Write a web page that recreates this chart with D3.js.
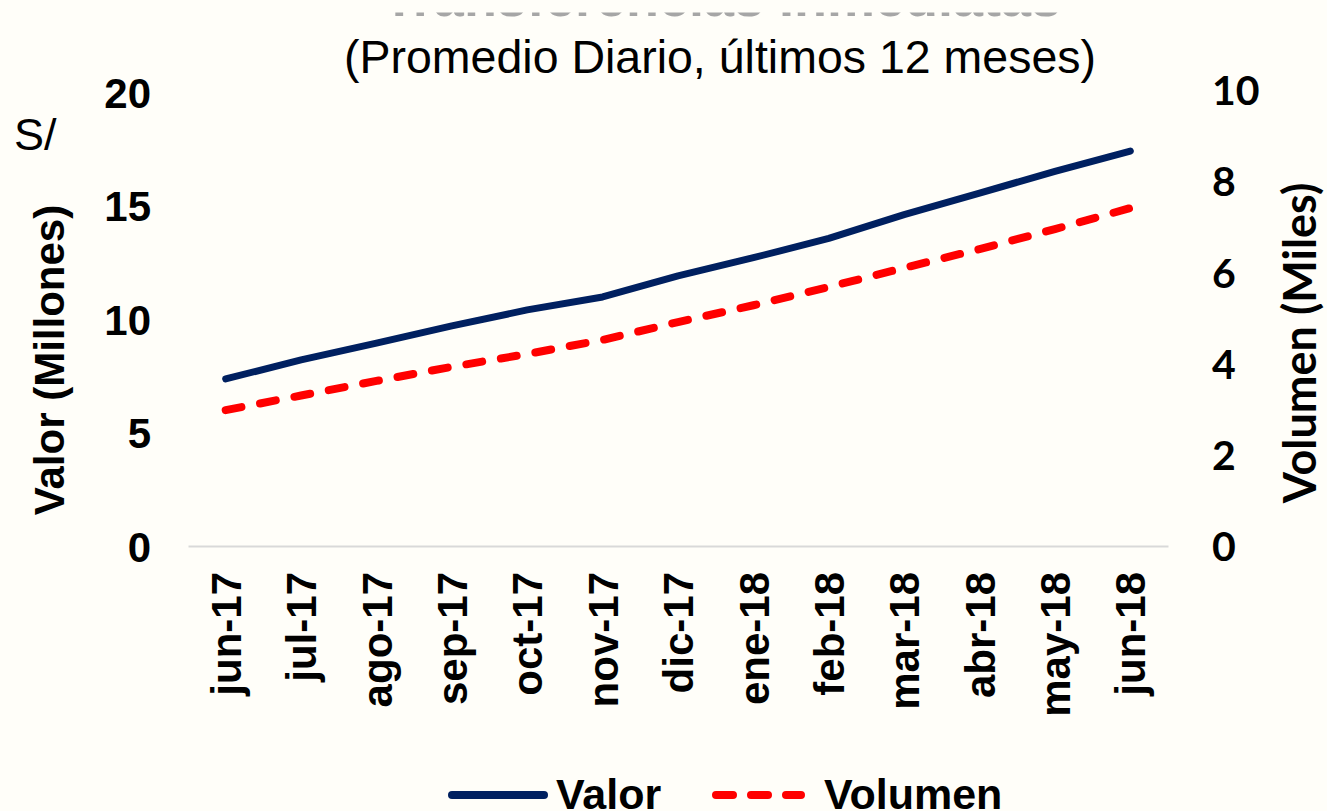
<!DOCTYPE html>
<html><head><meta charset="utf-8">
<script src="https://cdn.jsdelivr.net/npm/d3@7"></script>
<style>html,body{margin:0;padding:0;background:#FFFEF9;}svg{display:block;}</style>
</head><body>
<svg id="c" width="1327" height="811"></svg>
<script>
const categories = ["jun-17","jul-17","ago-17","sep-17","oct-17","nov-17","dic-17","ene-18","feb-18","mar-18","abr-18","may-18","jun-18"];
const valor = [7.36,8.2,8.94,9.7,10.4,10.97,11.9,12.7,13.55,14.6,15.55,16.5,17.4];
const volumen = [2.98,3.3,3.62,3.93,4.21,4.52,4.91,5.28,5.68,6.1,6.51,6.95,7.41];
const leftTicks = [0,5,10,15,20];
const rightTicks = [0,2,4,6,8,10];

const svg = d3.select("#c");
const W = 1327, H = 811;
const ARIAL = "Liberation Sans, Arial, sans-serif";
const CAL = "Lato, 'Open Sans', sans-serif";
svg.append("rect").attr("width",W).attr("height",H).attr("fill","#FFFEF9");

const x = d3.scaleBand().domain(categories).range([188,1168]);
const yL = d3.scaleLinear().domain([0,20]).range([546,92]);
const yR = d3.scaleLinear().domain([0,10]).range([546,90]);
const cx = d => x(d) + x.bandwidth()/2;

// Title (only its lower edge shows, as in the reference)
svg.append("clipPath").attr("id","tclip").append("rect")
  .attr("x",0).attr("y",12.5).attr("width",W).attr("height",10);
svg.append("text").attr("clip-path","url(#tclip)")
  .attr("x",722).attr("y",16).attr("text-anchor","middle")
  .attr("font-family",ARIAL).attr("font-weight","bold")
  .attr("font-size",54).attr("fill","#a6a6a6").text("Transferencias Inmediatas");
svg.append("text").attr("x",720).attr("y",73).attr("text-anchor","middle")
  .attr("font-family",ARIAL)
  .attr("font-size",46.5).attr("fill","#000").text("(Promedio Diario, últimos 12 meses)");

// X axis
const xAxis = svg.append("g").attr("transform","translate(0,546)")
  .call(d3.axisBottom(x).tickSize(0).tickPadding(0));
xAxis.select(".domain").attr("stroke","#d9d9d9").attr("stroke-width",2);
xAxis.selectAll("text")
  .attr("font-family",ARIAL).attr("font-weight","bold")
  .attr("font-size",42).attr("fill","#000")
  .attr("transform","rotate(-90)").attr("text-anchor","end")
  .attr("x",-26).attr("y",0).attr("dy","0.36em");

// Left axis
const lAxis = svg.append("g").attr("transform","translate(151,0)")
  .call(d3.axisLeft(yL).tickValues(leftTicks).tickSize(0).tickPadding(0));
lAxis.select(".domain").remove();
lAxis.selectAll("text").attr("font-family",ARIAL)
  .attr("font-weight","bold").attr("font-size",42).attr("fill","#000").attr("dy","0.36em");

// Right axis
const rAxis = svg.append("g").attr("transform","translate(1212,0)")
  .call(d3.axisRight(yR).tickValues(rightTicks).tickSize(0).tickPadding(0));
rAxis.select(".domain").remove();
rAxis.selectAll("text").attr("font-family",CAL)
  .attr("font-weight","bold").attr("font-size",41).attr("fill","#000").attr("dy","0.36em");

// Axis titles
svg.append("text").attr("x",14).attr("y",150)
  .attr("font-family",ARIAL).attr("font-size",45).attr("fill","#000").text("S/");
svg.append("text").attr("transform","translate(64,360) rotate(-90)").attr("text-anchor","middle")
  .attr("font-family",ARIAL).attr("font-weight","bold")
  .attr("font-size",42).attr("fill","#000").text("Valor (Millones)");
svg.append("text").attr("transform","translate(1316,343) rotate(-90)").attr("text-anchor","middle")
  .attr("font-family",CAL).attr("font-weight","bold")
  .attr("font-size",45).attr("fill","#000").text("Volumen (Miles)");

// Lines
const lineL = d3.line().x((d,i)=>cx(categories[i])).y(d=>yL(d));
const lineR = d3.line().x((d,i)=>cx(categories[i])).y(d=>yR(d));
svg.append("path").datum(volumen).attr("d",lineR).attr("fill","none")
  .attr("stroke","#FF0000").attr("stroke-width",8).attr("stroke-linecap","round")
  .attr("stroke-dasharray","16,19");
svg.append("path").datum(valor).attr("d",lineL).attr("fill","none")
  .attr("stroke","#002060").attr("stroke-width",7).attr("stroke-linecap","round")
  .attr("stroke-linejoin","round");

// Legend
const lg = svg.append("g");
lg.append("line").attr("x1",452).attr("x2",544).attr("y1",795).attr("y2",795)
  .attr("stroke","#002060").attr("stroke-width",8).attr("stroke-linecap","round");
lg.append("text").attr("x",556).attr("y",809)
  .attr("font-family",ARIAL).attr("font-weight","bold")
  .attr("font-size",43).attr("fill","#000").text("Valor");
lg.append("line").attr("x1",716).attr("x2",801).attr("y1",795).attr("y2",795)
  .attr("stroke","#FF0000").attr("stroke-width",8).attr("stroke-linecap","round")
  .attr("stroke-dasharray","17,18");
lg.append("text").attr("x",824).attr("y",809)
  .attr("font-family",ARIAL).attr("font-weight","bold")
  .attr("font-size",43).attr("fill","#000").text("Volumen");
</script>
</body></html>
